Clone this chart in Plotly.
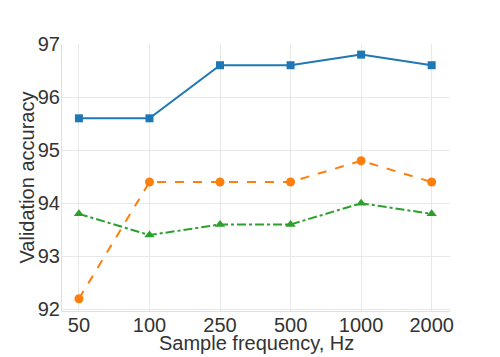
import plotly.graph_objects as go

categories = ["50", "100", "250", "500", "1000", "2000"]
series_a = [95.6, 95.6, 96.6, 96.6, 96.8, 96.6]
series_b = [92.2, 94.4, 94.4, 94.4, 94.8, 94.4]
series_c = [93.8, 93.4, 93.6, 93.6, 94.0, 93.8]
x_title = "Sample frequency, Hz"
y_title = "Validation accuracy"

fig = go.Figure()
fig.add_trace(go.Scatter(x=categories, y=series_a, mode="lines+markers",
                         line=dict(color="#1f77b4", width=2, dash="solid"),
                         marker=dict(symbol="square", size=8, color="#1f77b4")))
fig.add_trace(go.Scatter(x=categories, y=series_b, mode="lines+markers",
                         line=dict(color="#ff7f0e", width=2, dash="dash"),
                         marker=dict(symbol="circle", size=9, color="#ff7f0e")))
fig.add_trace(go.Scatter(x=categories, y=series_c, mode="lines+markers",
                         line=dict(color="#2ca02c", width=2, dash="dashdot"),
                         marker=dict(symbol="triangle-up", size=9, color="#2ca02c")))

# page body has an 8px margin, so the figure is shrunk by 8px and margins shifted
fig.update_layout(
    width=492, height=349,
    margin=dict(l=54, r=50, t=36, b=46, autoexpand=False),
    paper_bgcolor="white", plot_bgcolor="white",
    showlegend=False,
    font=dict(family="Liberation Sans, Arial, sans-serif", color="#333333"),
    xaxis=dict(type="category", range=[-0.24, 5.26], automargin=False,
               showgrid=True, gridcolor="#e8e8e8", gridwidth=1,
               showline=True, linecolor="#e0e0e0", linewidth=1, mirror=False,
               ticks="", tickfont=dict(size=20), ticklabelstandoff=-4),
    yaxis=dict(range=[91.97, 97.0], tickvals=[92, 93, 94, 95, 96, 97], automargin=False,
               showgrid=True, gridcolor="#e8e8e8", gridwidth=1,
               showline=True, linecolor="#e0e0e0", linewidth=1,
               zeroline=False, ticks="", tickfont=dict(size=20), ticklabelstandoff=-3),
    annotations=[
        dict(text=x_title, xref="paper", yref="paper", x=0.5, y=0,
             xanchor="center", yanchor="middle", yshift=-32, showarrow=False,
             font=dict(size=20, color="#333333")),
        dict(text=y_title, xref="paper", yref="paper", x=0, y=0.5,
             xanchor="center", yanchor="middle", xshift=-36, textangle=-90,
             showarrow=False, font=dict(size=20, color="#333333")),
    ],
)

fig.write_html("out.html")
